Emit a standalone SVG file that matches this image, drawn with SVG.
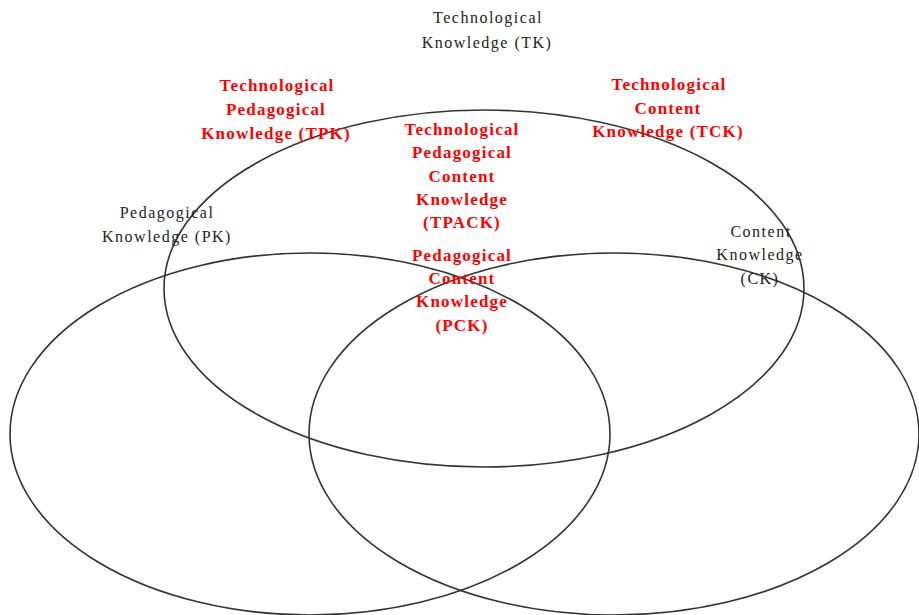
<svg xmlns="http://www.w3.org/2000/svg" width="919" height="615" viewBox="0 0 919 615">
  <style>
    .ring { fill: none; stroke: #333333; stroke-width: 1.6; }
    .lbl { font-family: "Liberation Serif", "Times New Roman", serif; font-size: 16px; letter-spacing: 1.5px; fill: #222222; text-anchor: middle; }
    .hot { font-family: "Liberation Serif", "Times New Roman", serif; font-size: 17px; font-weight: bold; letter-spacing: 1.2px; fill: #ff0000; text-anchor: middle; }
  </style>
  <rect width="919" height="615" fill="#ffffff"/>

  <!-- the three knowledge domains -->
  <g id="connectors">
    <ellipse id="tk-ring" class="ring" cx="484" cy="288.5" rx="320" ry="178.5"/>
    <ellipse id="pk-ring" class="ring" cx="310" cy="434" rx="300" ry="181"/>
    <ellipse id="ck-ring" class="ring" cx="614" cy="434" rx="305" ry="181"/>
  </g>

  <g id="tk">
    <text class="lbl" x="488" y="23">Technological</text>
    <text class="lbl" x="487" y="48">Knowledge (TK)</text>
  </g>

  <g id="pk">
    <text class="lbl" x="167" y="218">Pedagogical</text>
    <text class="lbl" x="167" y="242">Knowledge (PK)</text>
  </g>

  <g id="ck">
    <text class="lbl" x="761" y="237">Content</text>
    <text class="lbl" x="760" y="260">Knowledge</text>
    <text class="lbl" x="760" y="284">(CK)</text>
  </g>

  <g id="tpk">
    <text class="hot" x="277" y="91">Technological</text>
    <text class="hot" x="276" y="115">Pedagogical</text>
    <text class="hot" x="276" y="139">Knowledge (TPK)</text>
  </g>

  <g id="tck">
    <text class="hot" x="669" y="90">Technological</text>
    <text class="hot" x="668" y="114">Content</text>
    <text class="hot" x="668" y="137">Knowledge (TCK)</text>
  </g>

  <g id="tpack">
    <text class="hot" x="462" y="135">Technological</text>
    <text class="hot" x="462" y="158">Pedagogical</text>
    <text class="hot" x="462" y="182">Content</text>
    <text class="hot" x="462" y="205">Knowledge</text>
    <text class="hot" x="462" y="228">(TPACK)</text>
  </g>

  <g id="pck">
    <text class="hot" x="462" y="261">Pedagogical</text>
    <text class="hot" x="462" y="284">Content</text>
    <text class="hot" x="462" y="307">Knowledge</text>
    <text class="hot" x="462" y="331">(PCK)</text>
  </g>
</svg>
